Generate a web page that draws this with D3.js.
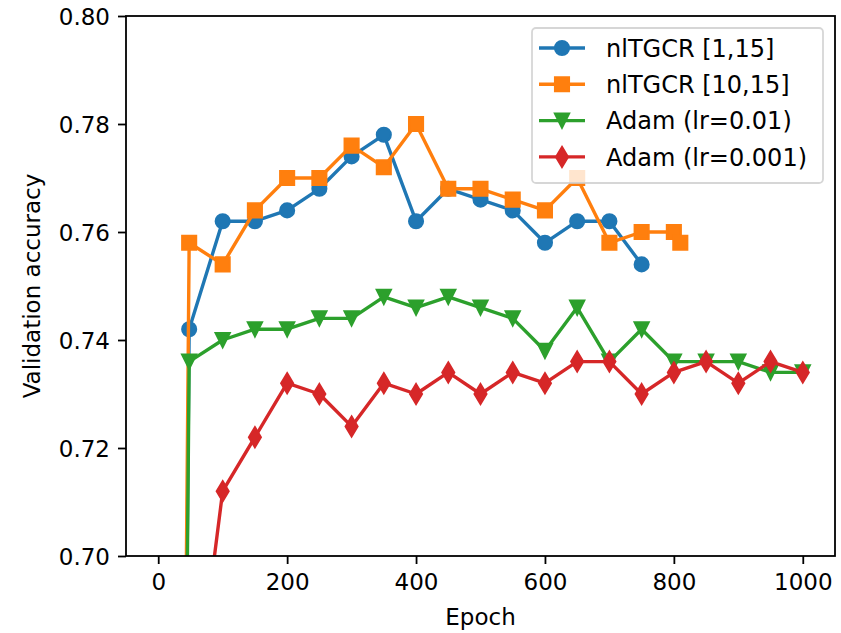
<!DOCTYPE html>
<html>
<head>
<meta charset="utf-8">
<script src="https://cdn.jsdelivr.net/npm/d3@7"></script>
<style>
  body { margin: 0; background: #fff; }
  text { font-family: "DejaVu Sans", sans-serif; fill: #000; }
</style>
</head>
<body>
<div id="chart"></div>
<script>
// epochs and validation accuracy per run
const epochsTGCR1 = [0, 48, 100, 150, 200, 250, 300, 350, 400, 450, 500, 550, 600, 650, 700, 750];
const accTGCR1 = [0.1, 0.742, 0.762, 0.762, 0.764, 0.768, 0.774, 0.778, 0.762, 0.768, 0.766, 0.764, 0.758, 0.762, 0.762, 0.754];

const epochsTGCR10 = [0, 48, 100, 150, 200, 250, 300, 350, 400, 450, 500, 550, 600, 650, 700, 750, 800, 810];
const accTGCR10 = [0.1, 0.758, 0.754, 0.764, 0.770, 0.770, 0.776, 0.772, 0.780, 0.768, 0.768, 0.766, 0.764, 0.770, 0.758, 0.760, 0.760, 0.758];

const epochsAdam = [0, 48, 100, 150, 200, 250, 300, 350, 400, 450, 500, 550, 600, 650, 700, 750, 800, 850, 900, 950, 1000];
const accAdam01 = [0.1, 0.736, 0.740, 0.742, 0.742, 0.744, 0.744, 0.748, 0.746, 0.748, 0.746, 0.744, 0.738, 0.746, 0.736, 0.742, 0.736, 0.736, 0.736, 0.734, 0.734];
const accAdam001 = [0.1, 0.663, 0.712, 0.722, 0.732, 0.730, 0.724, 0.732, 0.730, 0.734, 0.730, 0.734, 0.732, 0.736, 0.736, 0.730, 0.734, 0.736, 0.732, 0.736, 0.734];

const seriesNames = ['nlTGCR [1,15]', 'nlTGCR [10,15]', 'Adam (lr=0.01)', 'Adam (lr=0.001)'];
const xTicks = [0, 200, 400, 600, 800, 1000];
const yTicks = [0.70, 0.72, 0.74, 0.76, 0.78, 0.80];

// matplotlib-ish marker shapes, size = marker size in px
const circleType = { draw(ctx, s) { const r = s / 2; ctx.moveTo(r, 0); ctx.arc(0, 0, r, 0, 2 * Math.PI); } };
const squareType = { draw(ctx, s) { const h = s / 2; ctx.rect(-h, -h, s, s); } };
const triDownType = { draw(ctx, s) { const h = s / 2; ctx.moveTo(0, h); ctx.lineTo(-h, -h); ctx.lineTo(h, -h); ctx.closePath(); } };
const thinDiamondType = { draw(ctx, s) { const h = s * Math.SQRT2 / 2, w = h * 0.6; ctx.moveTo(0, -h); ctx.lineTo(w, 0); ctx.lineTo(0, h); ctx.lineTo(-w, 0); ctx.closePath(); } };

const series = [
    { name: seriesNames[0], x: epochsTGCR1, y: accTGCR1, color: '#1f77b4', type: circleType },
    { name: seriesNames[1], x: epochsTGCR10, y: accTGCR10, color: '#ff7f0e', type: squareType },
    { name: seriesNames[2], x: epochsAdam, y: accAdam01, color: '#2ca02c', type: triDownType },
    { name: seriesNames[3], x: epochsAdam, y: accAdam001, color: '#d62728', type: thinDiamondType }
];

const W = 841, H = 633;
const margin = { top: 16, right: 6, bottom: 77, left: 126 };
const width = W - margin.left - margin.right;
const height = H - margin.top - margin.bottom;
const markerSize = 13.8;

const svg = d3.select('#chart')
    .append('svg')
    .attr('width', W)
    .attr('height', H);

svg.append('rect').attr('width', W).attr('height', H).attr('fill', '#fff');

const g = svg.append('g')
    .attr('transform', `translate(${margin.left}, ${margin.top})`);

const xScale = d3.scaleLinear().domain([-50, 1050]).range([0, width]);
const yScale = d3.scaleLinear().domain([0.70, 0.80]).range([height, 0]);

g.append('clipPath').attr('id', 'plotclip')
    .append('rect').attr('width', width).attr('height', height);

// axes
const xAxis = d3.axisBottom(xScale).tickValues(xTicks).tickFormat(d3.format('d'))
    .tickSize(8).tickSizeOuter(0).tickPadding(10);
const yAxis = d3.axisLeft(yScale).tickValues(yTicks).tickFormat(d3.format('.2f'))
    .tickSize(8).tickSizeOuter(0).tickPadding(8);

const gx = g.append('g').attr('class', 'x-axis')
    .attr('transform', `translate(0, ${height})`).call(xAxis);
const gy = g.append('g').attr('class', 'y-axis').call(yAxis);

g.selectAll('.domain').remove();
g.selectAll('.tick line').style('stroke', '#000').style('stroke-width', '1.8px');
g.selectAll('.tick text').style('font-size', '23px').style('font-family', '"DejaVu Sans", sans-serif').attr('fill', '#000');
gy.selectAll('.tick text').attr('dy', '0.36em');

// lines + markers
const plot = g.append('g').attr('clip-path', 'url(#plotclip)');

series.forEach(s => {
    const pts = s.x.map((x, i) => [x, s.y[i]]);
    const line = d3.line()
        .x(d => xScale(d[0]))
        .y(d => yScale(d[1]));

    plot.append('path')
        .datum(pts)
        .attr('d', line)
        .style('fill', 'none')
        .style('stroke', s.color)
        .style('stroke-width', '3.4px')
        .style('stroke-linejoin', 'round')
        .style('stroke-linecap', 'square');

    plot.selectAll(null)
        .data(pts)
        .enter()
        .append('path')
        .attr('d', d3.symbol().type(s.type).size(markerSize))
        .attr('transform', d => `translate(${xScale(d[0])}, ${yScale(d[1])})`)
        .style('fill', s.color)
        .style('stroke', s.color)
        .style('stroke-width', '2.3px');
});

// frame
g.append('rect')
    .attr('width', width).attr('height', height)
    .style('fill', 'none').style('stroke', '#000').style('stroke-width', '1.8px');

// axis labels
g.append('text')
    .attr('x', width / 2).attr('y', height + 69)
    .attr('text-anchor', 'middle')
    .style('font-size', '23px')
    .text('Epoch');

g.append('text')
    .attr('transform', `translate(${-86}, ${height / 2}) rotate(-90)`)
    .attr('text-anchor', 'middle')
    .style('font-size', '23px')
    .text('Validation accuracy');

// legend
const legend = g.append('g').attr('transform', `translate(${532 - margin.left}, ${28 - margin.top})`);
legend.append('rect')
    .attr('width', 291).attr('height', 155)
    .attr('rx', 4).attr('ry', 4)
    .style('fill', 'rgba(255,255,255,0.8)')
    .style('stroke', 'rgba(204,204,204,0.8)')
    .style('stroke-width', '1.8px');

series.forEach((s, i) => {
    const row = legend.append('g').attr('transform', `translate(0, ${20 + i * 36.3})`);
    row.append('line')
        .attr('x1', 7).attr('x2', 53).attr('y1', 0).attr('y2', 0)
        .style('stroke', s.color).style('stroke-width', '3.4px');
    row.append('path')
        .attr('d', d3.symbol().type(s.type).size(markerSize))
        .attr('transform', 'translate(30, 0)')
        .style('fill', s.color).style('stroke', s.color).style('stroke-width', '2.3px');
    row.append('text')
        .attr('x', 74).attr('y', 0).attr('dy', '0.36em')
        .style('font-size', '24px')
        .text(s.name);
});
</script>
</body>
</html>
